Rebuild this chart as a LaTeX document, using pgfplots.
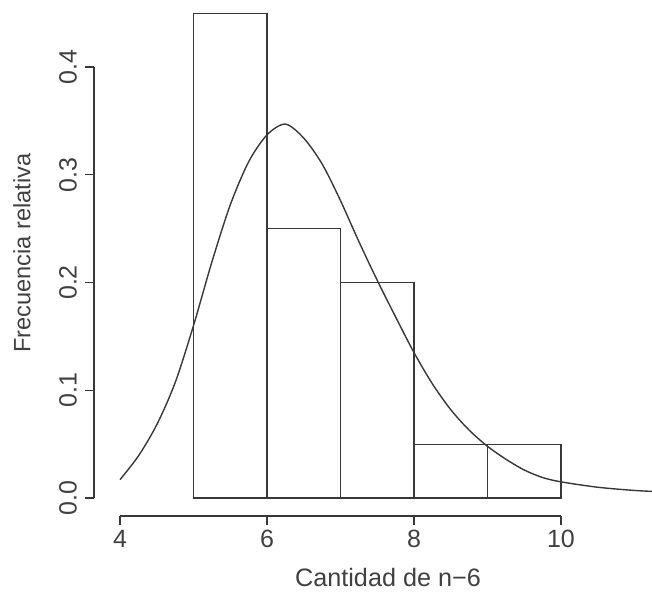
\documentclass[border=0pt]{standalone}
\usepackage{fontspec}
\setmainfont{Liberation Sans}
\usepackage{pgfplots}
\pgfplotsset{compat=1.18}

\definecolor{ink}{HTML}{383838}
\definecolor{txt}{HTML}{404040}

\begin{document}
\begin{tikzpicture}
\begin{axis}[
  name=ax,
  scale only axis,
  width=220.5pt, height=215.5pt,
  xmin=4, xmax=10, ymin=0, ymax=0.4,
  clip=false,
  axis x line*=bottom, axis y line*=left,
  axis x line shift=9pt, axis y line shift=13pt,
  axis line style={-, ink, line width=0.6pt},
  tick align=outside,
  major tick length=4.5pt,
  every tick/.style={ink, line width=0.6pt},
  xtick={4,6,8,10},
  ytick={0,0.1,0.2,0.3,0.4},
  yticklabels={0.0,0.1,0.2,0.3,0.4},
  /pgf/number format/assume math mode=true,
  tick label style={font=\fontsize{12.5}{14}\selectfont, text=txt},
  xticklabel style={yshift=1pt},
  yticklabel style={rotate=90, anchor=south, yshift=0.5pt},
  xlabel={Cantidad de n−6},
  ylabel={Frecuencia relativa},
  every axis x label/.style={at={([xshift=134pt,yshift=-39.5pt]axis description cs:0,0)}, anchor=center, font=\fontsize{12.6}{14}\selectfont, text=txt},
  every axis y label/.style={at={([xshift=-49pt,yshift=122.5pt]axis description cs:0,0)}, anchor=center, rotate=90, font=\fontsize{11.8}{14}\selectfont, text=txt},
]
% histogram of relative frequencies (interval bars)
\addplot[ybar interval, draw=ink, fill=white, line width=0.6pt]
  coordinates {(5,0.45) (6,0.25) (7,0.20) (8,0.05) (9,0.05) (10,0.05)};
% fitted density curve
\addplot[smooth, draw=ink, line width=0.7pt, no marks]
  coordinates {
    (4.00,0.017) (4.25,0.039) (4.50,0.068) (4.75,0.107) (5.00,0.160)
    (5.25,0.219) (5.50,0.272) (5.75,0.312) (6.00,0.337) (6.25,0.347)
    (6.50,0.334) (6.75,0.310) (7.00,0.276) (7.25,0.238) (7.50,0.202)
    (7.75,0.168) (8.00,0.135) (8.25,0.106) (8.50,0.082) (8.75,0.063)
    (9.00,0.048) (9.25,0.036) (9.50,0.026) (9.75,0.019) (10.00,0.015)
    (10.50,0.010) (11.00,0.007) (11.30,0.006)
  };
\end{axis}
\pgfresetboundingbox
\path[use as bounding box] ([xshift=-60pt,yshift=-51.5pt]ax.south west) rectangle ([xshift=266pt,yshift=249pt]ax.south west);
\end{tikzpicture}
\end{document}
